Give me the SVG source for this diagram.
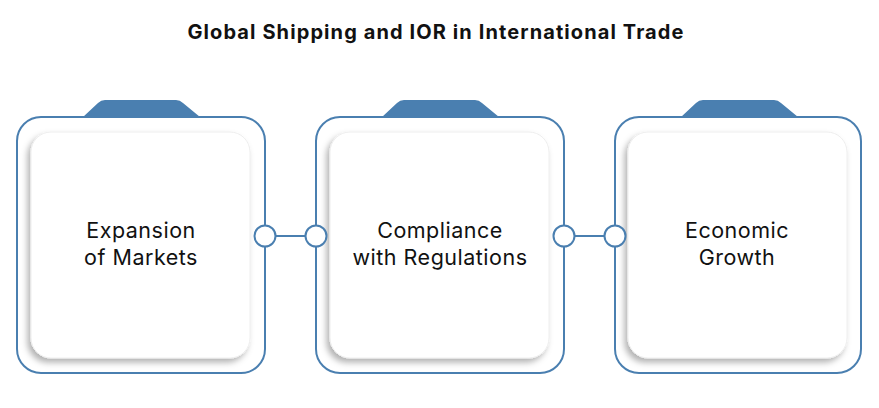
<svg xmlns="http://www.w3.org/2000/svg" width="879" height="408" viewBox="0 0 879 408">
<defs>
<filter id="sh" x="-20%" y="-20%" width="140%" height="140%">
<feDropShadow dx="-3" dy="4" stdDeviation="3" flood-color="#000" flood-opacity="0.3"/>
</filter>
<style>
.outer{fill:#fff;stroke:#4a7fb0;stroke-width:2}
.tab{fill:#4a7fb0}
.card{fill:#fff;stroke:#eeeeee;stroke-width:1;filter:url(#sh)}
.lbl{font-family:Inter,"Noto Sans",sans-serif;font-size:21.5px;letter-spacing:0.5px;fill:#111;text-anchor:middle}
.title{font-family:Inter,"Noto Sans",sans-serif;font-size:20px;font-weight:700;letter-spacing:1.1px;fill:#111;text-anchor:middle}
.dot{fill:#fff;stroke:#4a7fb0;stroke-width:2}
.ln{stroke:#4a7fb0;stroke-width:2}
</style>
</defs>
<rect width="879" height="408" fill="#fff"/>
<text class="title" x="436" y="39">Global Shipping and IOR in International Trade</text>
<g id="node1">
<path class="tab" d="M83 117 L98 103 Q101 100 105 100 L176 100 Q180 100 183 103 L200 117 Z"/>
<rect class="outer" x="17" y="117" width="248" height="256" rx="24"/>
<rect class="card" x="31" y="132" width="219" height="226" rx="20"/>
<text class="lbl" x="141" y="238">Expansion</text>
<text class="lbl" x="141" y="265">of Markets</text>
</g>
<g id="node2">
<path class="tab" d="M382 117 L397 103 Q400 100 404 100 L475 100 Q479 100 482 103 L499 117 Z"/>
<rect class="outer" x="316" y="117" width="248" height="256" rx="24"/>
<rect class="card" x="330" y="132" width="219" height="226" rx="20"/>
<text class="lbl" x="440" y="238">Compliance</text>
<text class="lbl" x="440" y="265">with Regulations</text>
</g>
<g id="node3">
<path class="tab" d="M681 117 L696 103 Q699 100 703 100 L774 100 Q778 100 781 103 L798 117 Z"/>
<rect class="outer" x="615" y="117" width="246" height="256" rx="24"/>
<rect class="card" x="628" y="132" width="219" height="226" rx="20"/>
<text class="lbl" x="737" y="238">Economic</text>
<text class="lbl" x="737" y="265">Growth</text>
</g>
<g id="connectors">
<line class="ln" x1="265" y1="236" x2="316" y2="236"/>
<circle class="dot" cx="265" cy="236" r="10.5"/>
<circle class="dot" cx="316" cy="236" r="10.5"/>
<line class="ln" x1="564" y1="236" x2="615" y2="236"/>
<circle class="dot" cx="564" cy="236" r="10.5"/>
<circle class="dot" cx="615" cy="236" r="10.5"/>
</g>
</svg>
